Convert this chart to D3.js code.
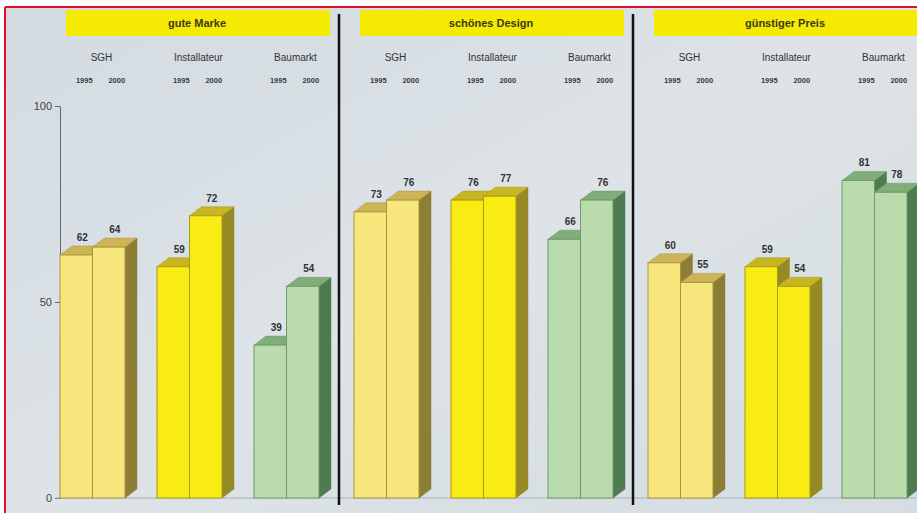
<!DOCTYPE html>
<html>
<head>
<meta charset="utf-8">
<script src="https://cdn.jsdelivr.net/npm/d3@7"></script>
<style>
  body { margin: 0; background: #fff; }
  svg { display: block; font-family: "Liberation Sans", Arial, sans-serif; }
</style>
</head>
<body>
<div id="chart"></div>
<script>
// data
const groups = ["gute Marke", "schönes Design", "günstiger Preis"];
const channels = ["SGH", "Installateur", "Baumarkt"];
const years = ["1995", "2000"];
// order: group by group, channel by channel
const values1995 = [62, 59, 39, 73, 76, 66, 60, 59, 81];
const values2000 = [64, 72, 54, 76, 77, 76, 55, 54, 78];
const yTicks = [0, 50, 100];

const WIDTH = 917, HEIGHT = 513;
const DX = 12, DY = 9; // 3d depth

// colours per channel: front, top, side, edge
const colors = {
  "SGH":          { front: "#f7e67c", top: "#cdb456", side: "#8d7e36", edge: "#a8963e" },
  "Installateur": { front: "#f8ec12", top: "#c8b522", side: "#958a26", edge: "#a89a1c" },
  "Baumarkt":     { front: "#badcac", top: "#80ad78", side: "#4f7b51", edge: "#6e9a68" }
};

const svg = d3.select("#chart").append("svg")
  .attr("width", WIDTH)
  .attr("height", HEIGHT);

const defs = svg.append("defs");
const grad = defs.append("linearGradient").attr("id", "bg")
  .attr("x1", 0).attr("y1", 0).attr("x2", 1).attr("y2", 1);
grad.append("stop").attr("offset", "0%").attr("stop-color", "#d3dbe1");
grad.append("stop").attr("offset", "50%").attr("stop-color", "#dde3e7");
grad.append("stop").attr("offset", "100%").attr("stop-color", "#d5dde2");

svg.append("rect")
  .attr("x", 5).attr("y", 7)
  .attr("width", WIDTH).attr("height", HEIGHT)
  .attr("fill", "url(#bg)");

// scales
const y = d3.scaleLinear().domain([0, 100]).range([498, 106]);

const xGroup = d3.scaleBand()
  .domain(groups)
  .range([60, 60 + 3 * 294]);

const xChannel = d3.scaleBand()
  .domain(channels)
  .range([0, 259])
  .paddingInner(0.33);

const xYear = d3.scaleBand()
  .domain(years)
  .range([0, xChannel.bandwidth()]);

// flat list of bars
const bars = [];
groups.forEach((g, gi) => {
  channels.forEach((c, ci) => {
    const i = gi * channels.length + ci;
    bars.push({ group: g, channel: c, year: "1995", value: values1995[i] });
    bars.push({ group: g, channel: c, year: "2000", value: values2000[i] });
  });
});
const barX = d => xGroup(d.group) + xChannel(d.channel) + xYear(d.year);

// headers
svg.selectAll(".header")
  .data(groups)
  .enter()
  .append("rect")
  .attr("class", "header")
  .attr("x", d => xGroup(d) + 6)
  .attr("y", 10)
  .attr("width", 264)
  .attr("height", 26)
  .attr("fill", "#f4ea02");

svg.selectAll(".header-text")
  .data(groups)
  .enter()
  .append("text")
  .attr("x", d => xGroup(d) + 137)
  .attr("y", 27)
  .attr("text-anchor", "middle")
  .style("font-size", "11px")
  .style("font-weight", "bold")
  .style("fill", "#3a3a1a")
  .text(d => d);

// channel and year labels
groups.forEach(g => {
  channels.forEach(c => {
    const cx = xGroup(g) + xChannel(c) + xChannel.bandwidth() / 2 + 9;
    svg.append("text")
      .attr("x", cx)
      .attr("y", 61)
      .attr("text-anchor", "middle")
      .style("font-size", "10px")
      .style("fill", "#333")
      .text(c);
    years.forEach(yr => {
      svg.append("text")
        .attr("x", xGroup(g) + xChannel(c) + xYear(yr) + xYear.bandwidth() / 2 + 8)
        .attr("y", 83)
        .attr("text-anchor", "middle")
        .style("font-size", "7.5px")
        .style("font-weight", "bold")
        .style("fill", "#3a3a3a")
        .text(yr);
    });
  });
});

// y axis
const yAxis = svg.append("g")
  .attr("transform", "translate(60,0)")
  .call(d3.axisLeft(y).tickValues(yTicks).tickSize(5).tickSizeOuter(0).tickPadding(3));
yAxis.select(".domain").attr("stroke", "#666").attr("stroke-width", 1);
yAxis.selectAll(".tick line").attr("stroke", "#666");
yAxis.selectAll("text")
  .style("font-size", "11px")
  .style("fill", "#444")
  .attr("font-family", "Liberation Sans, Arial, sans-serif");

// baseline
svg.append("line")
  .attr("x1", 55).attr("x2", WIDTH)
  .attr("y1", y(0)).attr("y2", y(0))
  .attr("stroke", "#a7b0b6")
  .attr("stroke-width", 1);

// 3d bars, drawn in order so the 2000 bar covers the 1995 side
const w = xYear.bandwidth();
const barG = svg.selectAll(".bar")
  .data(bars)
  .enter()
  .append("g")
  .attr("class", "bar");

barG.append("polygon")
  .attr("points", d => {
    const x0 = barX(d), yt = y(d.value), yb = y(0);
    return [[x0 + w, yt], [x0 + w + DX, yt - DY], [x0 + w + DX, yb - DY], [x0 + w, yb]].join(" ");
  })
  .attr("fill", d => colors[d.channel].side)
  .attr("stroke", d => colors[d.channel].side)
  .attr("stroke-width", 0.5);

barG.append("polygon")
  .attr("points", d => {
    const x0 = barX(d), yt = y(d.value);
    return [[x0, yt], [x0 + DX, yt - DY], [x0 + w + DX, yt - DY], [x0 + w, yt]].join(" ");
  })
  .attr("fill", d => colors[d.channel].top)
  .attr("stroke", d => colors[d.channel].edge)
  .attr("stroke-width", 0.5);

barG.append("rect")
  .attr("x", d => barX(d))
  .attr("y", d => y(d.value))
  .attr("width", w)
  .attr("height", d => y(0) - y(d.value))
  .attr("fill", d => colors[d.channel].front)
  .attr("stroke", d => colors[d.channel].edge)
  .attr("stroke-width", 1);

// value labels
svg.selectAll(".label")
  .data(bars)
  .enter()
  .append("text")
  .attr("x", d => barX(d) + w / 2 + DX / 2)
  .attr("y", d => y(d.value) - DY - 5)
  .attr("text-anchor", "middle")
  .style("font-size", "10px")
  .style("font-weight", "bold")
  .style("fill", "#333")
  .text(d => d.value);

// group dividers
svg.selectAll(".divider")
  .data(groups.slice(1))
  .enter()
  .append("line")
  .attr("x1", d => xGroup(d) - 15)
  .attr("x2", d => xGroup(d) - 15)
  .attr("y1", 14)
  .attr("y2", 505)
  .attr("stroke", "#111")
  .attr("stroke-width", 2.5);

// red frame (top and left)
svg.append("line")
  .attr("x1", 5).attr("x2", WIDTH).attr("y1", 7).attr("y2", 7)
  .attr("stroke", "#e2102c").attr("stroke-width", 2);
svg.append("line")
  .attr("x1", 5).attr("x2", 5).attr("y1", 7).attr("y2", HEIGHT)
  .attr("stroke", "#e2102c").attr("stroke-width", 2);
</script>
</body>
</html>
